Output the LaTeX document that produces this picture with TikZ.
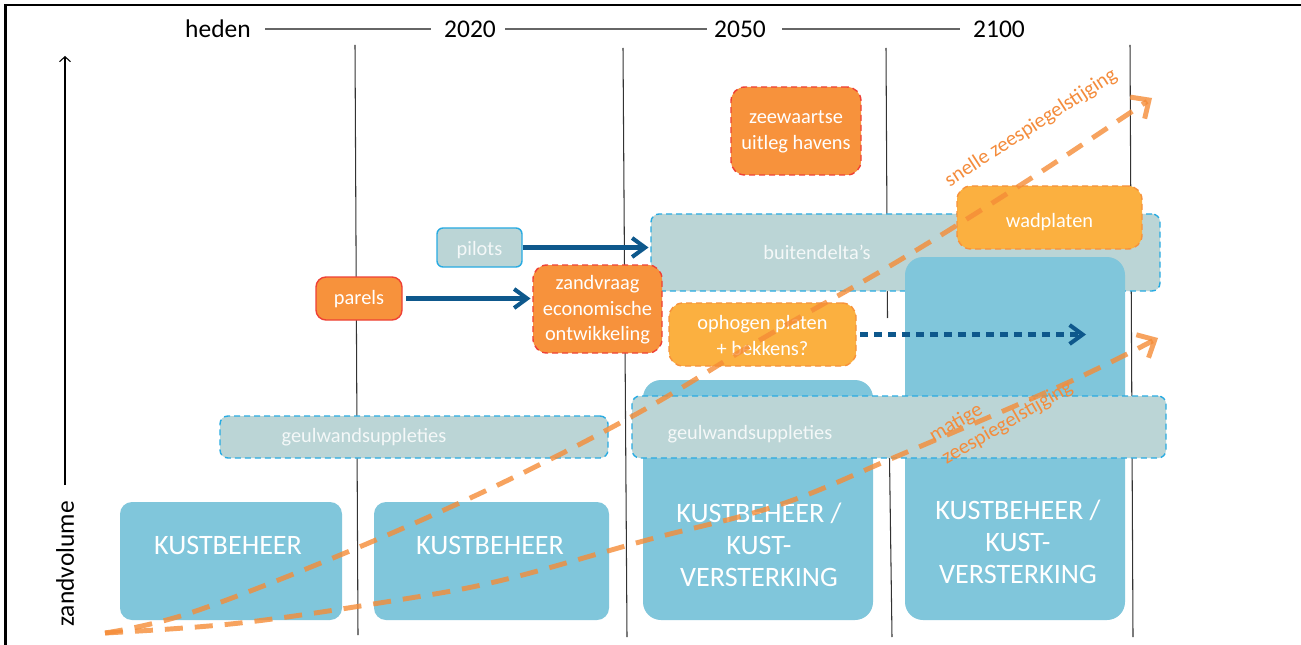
\documentclass[tikz,border=0pt]{standalone}
\usepackage{fontspec}
\setmainfont{Carlito}
\usetikzlibrary{arrows.meta,fit}
\definecolor{kustblue}{RGB}{128,198,219}
\definecolor{geulfill}{RGB}{187,213,214}
\definecolor{geulline}{RGB}{41,171,226}
\definecolor{oranje}{RGB}{247,146,60}
\definecolor{rood}{RGB}{239,65,54}
\definecolor{lichtoranje}{RGB}{251,176,64}
\definecolor{donkerblauw}{RGB}{14,88,140}
\definecolor{curvekleur}{RGB}{245,140,55}
\definecolor{curvetxt}{RGB}{244,140,60}
\definecolor{geultxt}{RGB}{244,248,248}
\tikzset{
  vline/.style={draw=black!80, line width=0.6pt},
  hline/.style={draw=black!60, line width=0.6pt},
  yeartxt/.style={inner sep=0pt, font=\fontsize{14.5}{17}\selectfont},
  kust/.style={fill=kustblue, draw=none, rounded corners=0.24cm, inner sep=0pt},
  kustbig/.style={kust, rounded corners=0.36cm},
  kusttxt/.style={text=white, font=\fontsize{16}{18.4}\selectfont, align=center, inner sep=0pt},
  boxtxt/.style={font=\fontsize{11.6}{14.6}\selectfont, align=center, inner sep=0pt, text=white},
  geul/.style={fill=geulfill, draw=geulline, line width=0.8pt, dash pattern=on 0.12cm off 0.08cm, rounded corners=0.16cm, inner sep=0pt},
  geultext/.style={boxtxt, text=geultxt},
  pilotbox/.style={fill=geulfill, draw=geulline, line width=0.8pt, rounded corners=0.12cm, inner sep=0pt},
  parelbox/.style={fill=oranje, draw=rood, line width=0.8pt, rounded corners=0.2cm, inner sep=0pt},
  oranjebox/.style={fill=oranje, draw=rood, line width=0.8pt, dash pattern=on 0.12cm off 0.08cm, rounded corners=0.28cm, inner sep=0pt},
  lichtbox/.style={fill=lichtoranje, draw=oranje, line width=0.8pt, dash pattern=on 0.12cm off 0.08cm, rounded corners=0.28cm, inner sep=0pt},
  blauwpijl/.style={draw=donkerblauw, line width=2.3pt, -{Straight Barb[length=0.26cm, width=0.38cm]}},
  stippelpijl/.style={blauwpijl, dash pattern=on 0.16cm off 0.12cm},
  zeecurve/.style={draw=curvekleur, draw opacity=0.8, line width=2.8pt, dash pattern=on 0.36cm off 0.24cm, -{Straight Barb[length=0.28cm, width=0.52cm]}},
  curvelabel/.style={text=curvetxt, font=\fontsize{11.8}{14.6}\selectfont, inner sep=0pt},
  axislabel/.style={font=\fontsize{14.5}{17}\selectfont, inner sep=0pt}
}
\begin{document}
\begin{tikzpicture}[x=0.02cm, y=-0.02cm]
\useasboundingbox (0,0) rectangle (1301,645);
\fill[white] (0,0) rectangle (1301,645);
% frame
\draw[line width=1.7pt] (5.5,646) -- (5.5,5) -- (1302,5);

% header
\node[yeartxt] (heden) at (218,29) {heden};
\node[yeartxt] (y2020) at (470,29) {2020};
\node[yeartxt] (y2050) at (740,29) {2050};
\node[yeartxt] (y2100) at (999,29) {2100};
\draw[hline, shorten <=0.28cm, shorten >=0.26cm] (heden.east) -- (y2020.west);
\draw[hline, shorten <=0.18cm, shorten >=0.14cm] (y2020.east) -- (y2050.west);
\draw[hline, shorten <=0.32cm, shorten >=0.26cm] (y2050.east) -- (y2100.west);

% vertical time lines
\draw[vline] (355,45) -- (358,635);
\draw[vline] (623,48) -- (627,637);
\draw[vline] (886,48) -- (887.5,318);
\draw[vline] (889.5,458) -- (892,637);
\draw[vline] (1130,45) -- (1133,637);

% y axis
\draw[black, line width=0.6pt, -{Straight Barb[length=0.1cm, width=0.22cm]}] (65,485) -- (65,56);
\node[axislabel, rotate=90] (zandvolume) at (65,564) {zandvolume};

% boxes
\node[geul, fit={(651,214) (1160,291)}] (bd) {};
\node[kust, fit={(120,502) (342,620)}] (k1) {};
\node[kust, fit={(374,502) (609,620)}] (k2) {};
\node[kustbig, fit={(643,380) (873,620)}] (k3) {};
\node[kustbig, fit={(905,257) (1125,620)}] (k4) {};
\node[geul, fit={(220,416) (608,458)}] (g1) {};
\node[geul, fit={(632,396) (1166,458)}] (g2) {};
\node[lichtbox, fit={(957,186) (1142,249)}] (wad) {};
\node[oranjebox, fit={(731,87) (861,175)}] (zee) {};
\node[pilotbox, fit={(437,228) (522,267)}] (pil) {};
\node[parelbox, fit={(316,277) (402,320)}] (par) {};
\node[oranjebox, fit={(533,265) (662,353)}] (zv) {};
\node[lichtbox, fit={(669,303) (856,366)}] (oph) {};

% arrows
\coordinate (dotend) at (1086,334);
\draw[blauwpijl, shorten >=1pt] (pil.east) -- (pil.east -| bd.west);
\draw[blauwpijl, shorten <=2pt, shorten >=1pt] (par.east) -- (par.east -| zv.west);
\draw[stippelpijl, shorten <=2pt] (oph.east) -- (oph.east -| dotend);

% box texts
\node[kusttxt] (t1) at (228,545) {KUSTBEHEER};
\node[kusttxt] (t2) at (490,545) {KUSTBEHEER};
\node[kusttxt] (t3) at (759,545) {KUSTBEHEER /\\KUST-\\VERSTERKING};
\node[kusttxt] (t4) at (1018,542) {KUSTBEHEER /\\KUST-\\VERSTERKING};
\node[geultext] (tg1) at (364,437) {geulwandsuppleties};
\node[geultext] (tg2) at (750,434) {geulwandsuppleties};
\node[geultext] (tbd) at (817,252) {buitendelta's};
\node[boxtxt] (twad) at ([yshift=-0.1cm]wad.center) {wadplaten};
\node[boxtxt] (tzee) at ([yshift=-0.02cm]zee.center) {zeewaartse\\uitleg havens};
\node[geultext] (tpil) at ([yshift=-0.06cm]pil.center) {pilots};
\node[boxtxt] (tpar) at ([yshift=-0.02cm]par.center) {parels};
\node[boxtxt] (tzv) at ([yshift=-0.02cm]zv.center) {zandvraag\\economische\\ontwikkeling};
\node[boxtxt] (toph) at ([yshift=-0.02cm]oph.center) {ophogen platen\\+ bekkens?};

% sea level curves
\draw[zeecurve] plot[smooth, tension=0.6] coordinates {(105,633) (190,613) (345,553) (500,484) (640,412) (760,340) (900,260) (1033,177) (1152,98)};
\draw[zeecurve] plot[smooth, tension=0.6] coordinates {(105,633) (240,623) (398,600) (503,580) (647,540) (779,505) (900,455) (1067,383) (1158,338)};
\node[curvelabel, rotate=33] (snelle) at (1031,128) {snelle zeespiegelstijging};
\node[curvelabel, rotate=30, align=left] (matige) at (1001,412) {matige\\zeespiegelstijging};
\end{tikzpicture}
\end{document}
